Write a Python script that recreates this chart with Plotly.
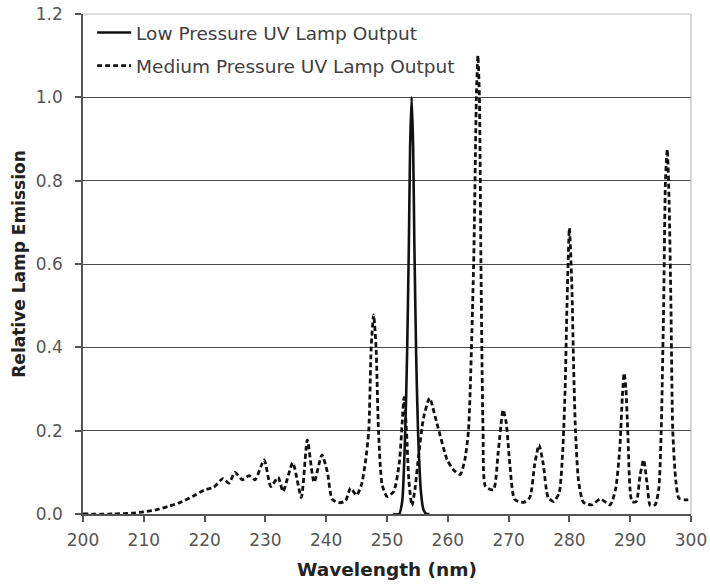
import plotly.graph_objects as go

# Medium pressure UV lamp output (wavelength nm, relative emission)
mp_wavelength = [200, 205, 208, 210, 212, 214, 216, 218, 220, 221.5, 223, 224, 225, 226.2, 227.3, 228.3,
                 229.8, 230.9, 232.1, 232.9, 234.5, 235.9, 236.9, 238.0, 239.3, 240.2, 241.0, 242.3,
                 243.2, 244.0, 245.0, 245.8, 246.5, 247.0, 247.4, 247.8, 248.2, 248.6, 249.2, 250.0,
                 251.1, 252.0, 252.5, 252.8, 253.2, 253.6, 254.1, 254.6, 255.2, 256.0, 257.0, 258.2,
                 259.9, 261.0, 262.05, 262.8, 263.4, 264.25, 264.7, 264.95, 265.2, 265.45, 265.8, 266.2,
                 267.5, 268.3, 269.1, 269.6, 270.2, 271.0, 272.5, 273.5, 274.3, 275.0, 275.7, 276.5,
                 277.4, 278.3, 278.9, 279.3, 279.6, 280.0, 280.4, 280.7, 281.0, 281.5, 282.3, 283.7,
                 285.1, 286.7, 287.6, 288.3, 288.7, 289.0, 289.3, 289.6, 290.3, 291.0, 291.6, 292.2,
                 292.8, 293.3, 294.1, 294.7, 295.1, 295.5, 295.8, 296.1, 296.4, 296.7, 297.0, 297.5,
                 298.0, 299.0, 300.0]
mp_emission = [0.0, 0.0, 0.002, 0.005, 0.01, 0.018, 0.028, 0.042, 0.058, 0.064, 0.085, 0.074, 0.10, 0.082, 0.092, 0.082,
               0.13, 0.066, 0.088, 0.054, 0.123, 0.04, 0.178, 0.076, 0.142, 0.10, 0.035, 0.027,
               0.032, 0.062, 0.045, 0.07, 0.13, 0.2, 0.4, 0.478, 0.4, 0.2, 0.07, 0.042,
               0.054, 0.12, 0.22, 0.28, 0.2, 0.08, 0.02, 0.06, 0.14, 0.23, 0.278, 0.218,
               0.13, 0.105, 0.095, 0.13, 0.2, 0.6, 1.0, 1.10, 1.0, 0.6, 0.2, 0.066,
               0.058, 0.15, 0.25, 0.22, 0.12, 0.035, 0.028, 0.04, 0.12, 0.166, 0.12, 0.04,
               0.03, 0.05, 0.15, 0.3, 0.5, 0.686, 0.55, 0.35, 0.2, 0.08, 0.028, 0.022,
               0.036, 0.022, 0.06, 0.16, 0.28, 0.338, 0.3, 0.2, 0.03, 0.03, 0.09, 0.13,
               0.07, 0.02, 0.022, 0.06, 0.2, 0.5, 0.8, 0.875, 0.75, 0.5, 0.2, 0.08,
               0.038, 0.034, 0.034]

# Low pressure UV lamp output
lp_wavelength = [251, 252, 252.5, 253.0, 253.3, 253.6, 253.8, 254.05, 254.3, 254.5, 254.8, 255.1, 255.6, 256.0, 256.5, 257]
lp_emission = [0, 0, 0.03, 0.2, 0.38, 0.65, 0.88, 1.0, 0.88, 0.65, 0.38, 0.2, 0.05, 0.01, 0, 0]

x_ticks = list(range(200, 301, 10))
y_ticks = [0.0, 0.2, 0.4, 0.6, 0.8, 1.0, 1.2]

FONT = "DejaVu Sans"

fig = go.Figure()
fig.add_trace(go.Scatter(
    x=lp_wavelength, y=lp_emission, mode="lines",
    name="Low Pressure UV Lamp Output", legendgroup="a",
    line=dict(color="#111111", width=2.6, shape="spline", smoothing=0.6),
))
fig.add_trace(go.Scatter(
    x=mp_wavelength, y=mp_emission, mode="lines",
    name="Medium Pressure UV Lamp Output", legendgroup="b",
    line=dict(color="#111111", width=2.8, dash="5px,3px", shape="spline", smoothing=0.6),
))

fig.update_layout(
    width=710, height=584,
    margin=dict(l=83, r=19, t=14, b=70, autoexpand=False),
    paper_bgcolor="white", plot_bgcolor="white",
    font=dict(family=FONT, size=17, color="#555555"),
    showlegend=True,
    legend=dict(
        x=0.015, y=1.0, xanchor="left", yanchor="top",
        bgcolor="rgba(0,0,0,0)", borderwidth=0, itemwidth=34,
        font=dict(family=FONT, size=18.5, color="#404040"),
        traceorder="grouped", tracegroupgap=6,
    ),
    xaxis=dict(
        range=[200, 300], tickvals=x_ticks, ticktext=[str(v) for v in x_ticks],
        showgrid=False, zeroline=False, automargin=False,
        showline=True, linecolor="#555555", linewidth=1.5,
        ticks="outside", ticklen=6, tickcolor="#555555", tickwidth=1.5,
        ticklabelstandoff=4,
        tickfont=dict(family=FONT, size=17, color="#555555"),
        title=dict(text="<b>Wavelength (nm)</b>", font=dict(family=FONT, size=18.5, color="#222222"), standoff=14),
    ),
    yaxis=dict(
        range=[0, 1.2], tickvals=y_ticks, ticktext=[f"{v:.1f}" for v in y_ticks],
        showgrid=True, gridcolor="#4a4a4a", gridwidth=1.3, zeroline=False, automargin=False,
        showline=True, linecolor="#555555", linewidth=1.5,
        ticks="outside", ticklen=6, tickcolor="#555555", tickwidth=1.5,
        ticklabelstandoff=9,
        tickfont=dict(family=FONT, size=17, color="#555555"),
        title=dict(text="<b>Relative Lamp Emission</b>", font=dict(family=FONT, size=17, color="#222222"), standoff=6),
    ),
    shapes=[
        dict(type="line", xref="paper", yref="paper", x0=0, x1=1, y0=1, y1=1,
             line=dict(color="#bbbbbb", width=1.2)),
        dict(type="line", xref="paper", yref="paper", x0=1, x1=1, y0=0, y1=1,
             line=dict(color="#bbbbbb", width=1.2)),
    ],
)

fig.write_html("out.html")
